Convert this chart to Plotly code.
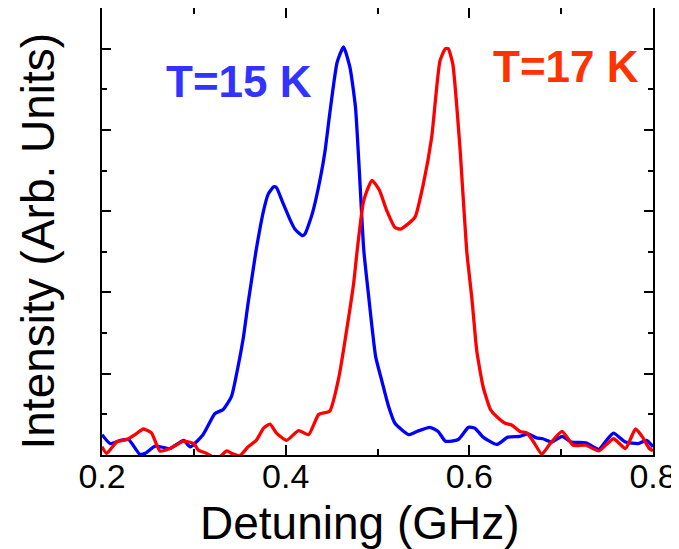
import plotly.graph_objects as go

# T = 15 K (blue)
x15 = [0.200, 0.209, 0.220, 0.229, 0.241, 0.247, 0.258, 0.274, 0.289, 0.296, 0.310, 0.323,
       0.332, 0.341, 0.348, 0.354, 0.359, 0.365, 0.368, 0.376, 0.381, 0.387, 0.390, 0.396,
       0.405, 0.410, 0.418, 0.421, 0.429, 0.438, 0.443, 0.448, 0.456, 0.463, 0.470, 0.476,
       0.480, 0.485, 0.490, 0.498, 0.505, 0.512, 0.519, 0.534, 0.543, 0.557, 0.566, 0.574,
       0.588, 0.599, 0.606, 0.615, 0.630, 0.642, 0.655, 0.664, 0.673, 0.680, 0.690, 0.701,
       0.711, 0.727, 0.741, 0.750, 0.757, 0.770, 0.784, 0.793, 0.800]
y15 = [0.25, 0.14, 0.18, 0.19, 0.01, 0.02, 0.11, 0.08, 0.18, 0.10, 0.25, 0.51,
       0.56, 0.72, 1.08, 1.45, 1.86, 2.31, 2.53, 3.01, 3.21, 3.30, 3.29, 3.13,
       2.89, 2.78, 2.70, 2.72, 2.97, 3.42, 3.75, 4.20, 4.83, 5.02, 4.77, 4.28,
       3.54, 2.53, 1.99, 1.21, 0.90, 0.60, 0.39, 0.25, 0.29, 0.34, 0.29, 0.17,
       0.19, 0.34, 0.33, 0.22, 0.13, 0.22, 0.23, 0.26, 0.21, 0.20, 0.16, 0.23,
       0.16, 0.15, 0.07, 0.19, 0.27, 0.16, 0.14, 0.18, 0.10]

# T = 17 K (red)
x17 = [0.200, 0.205, 0.216, 0.227, 0.236, 0.245, 0.254, 0.263, 0.274, 0.289, 0.300, 0.305,
       0.314, 0.325, 0.336, 0.341, 0.350, 0.359, 0.368, 0.376, 0.383, 0.390, 0.401, 0.414,
       0.425, 0.436, 0.448, 0.458, 0.467, 0.474, 0.478, 0.485, 0.494, 0.502, 0.510, 0.519,
       0.525, 0.534, 0.541, 0.550, 0.559, 0.568, 0.574, 0.577, 0.582, 0.590, 0.597, 0.603,
       0.608, 0.615, 0.623, 0.630, 0.639, 0.646, 0.655, 0.663, 0.670, 0.679, 0.688, 0.701,
       0.713, 0.727, 0.741, 0.757, 0.770, 0.781, 0.788, 0.796, 0.800]
y17 = [0.10, 0.02, 0.16, 0.19, 0.25, 0.32, 0.27, 0.05, 0.08, 0.17, 0.14, 0.06,
       0.02, -0.05, 0.05, 0.02, -0.01, 0.10, 0.18, 0.33, 0.38, 0.27, 0.18, 0.30,
       0.25, 0.50, 0.54, 0.96, 1.58, 2.11, 2.53, 3.13, 3.38, 3.26, 3.01, 2.80,
       2.78, 2.85, 2.93, 3.34, 3.91, 4.85, 5.00, 5.00, 4.81, 3.75, 2.53, 1.90,
       1.29, 0.84, 0.56, 0.47, 0.39, 0.37, 0.29, 0.27, 0.16, 0.01, 0.14, 0.29,
       0.12, 0.12, 0.05, 0.20, 0.08, 0.32, 0.23, 0.08, 0.05]

x_ticks = [0.2, 0.4, 0.6, 0.8]
x_tick_labels = ["0.2", "0.4", "0.6", "0.8"]

FONT = "Liberation Sans, Arial, sans-serif"

fig = go.Figure()
fig.add_trace(go.Scatter(x=x15, y=y15, mode="lines", name="T=15 K",
                         line=dict(color="#0000ff", width=3.3, shape="spline", smoothing=0.5)))
fig.add_trace(go.Scatter(x=x17, y=y17, mode="lines", name="T=17 K",
                         line=dict(color="#ff0000", width=3.3, shape="spline", smoothing=0.5)))

fig.add_annotation(x=0.2675, y=4.60, xref="x", yref="y", text="<b>T=15 K</b>",
                   showarrow=False, xanchor="left", yanchor="middle",
                   font=dict(family=FONT, size=44, color="#3333ff"))
fig.add_annotation(x=0.6238, y=4.78, xref="x", yref="y", text="<b>T=17 K</b>",
                   showarrow=False, xanchor="left", yanchor="middle",
                   font=dict(family=FONT, size=44, color="#ff3300"))

# axis titles
fig.add_annotation(x=0.5, y=0, xref="paper", yref="paper", text="Detuning (GHz)",
                   showarrow=False, xanchor="center", yanchor="top", xshift=-18, yshift=-40,
                   font=dict(family=FONT, size=46, color="black"))
fig.add_annotation(x=0, y=0.5, xref="paper", yref="paper", text="Intensity (Arb. Units)",
                   showarrow=False, xanchor="center", yanchor="middle", xshift=-65, yshift=-10,
                   textangle=-90, font=dict(family=FONT, size=46, color="black"))

# page body has an 8px default margin, so the figure is sized to fit the window
fig.update_layout(
    width=671, height=541,
    margin=dict(l=94, r=26, t=0, b=94, autoexpand=False),
    paper_bgcolor="white", plot_bgcolor="white",
    showlegend=False,
    font=dict(family=FONT, color="black"),
)
fig.update_xaxes(
    range=[0.2, 0.8], tickmode="array", tickvals=x_ticks, ticktext=x_tick_labels,
    ticks="inside", ticklen=10, tickwidth=2, tickcolor="black",
    minor=dict(dtick=0.1, tick0=0.2, ticks="inside", ticklen=6, tickwidth=2, tickcolor="black"),
    showline=True, linewidth=2, linecolor="black", mirror="ticks",
    showgrid=False, zeroline=False, automargin=False,
    tickfont=dict(size=34, family=FONT, color="black"),
    ticklabelstandoff=-10,
)
fig.update_yaxes(
    range=[0, 5.5], dtick=1, tick0=0, showticklabels=False,
    ticks="inside", ticklen=9, tickwidth=2, tickcolor="black",
    minor=dict(dtick=0.5, tick0=0, ticks="inside", ticklen=5, tickwidth=2, tickcolor="black"),
    showline=True, linewidth=2, linecolor="black", mirror="ticks",
    showgrid=False, zeroline=False, automargin=False,
)

fig.write_html("out.html")
